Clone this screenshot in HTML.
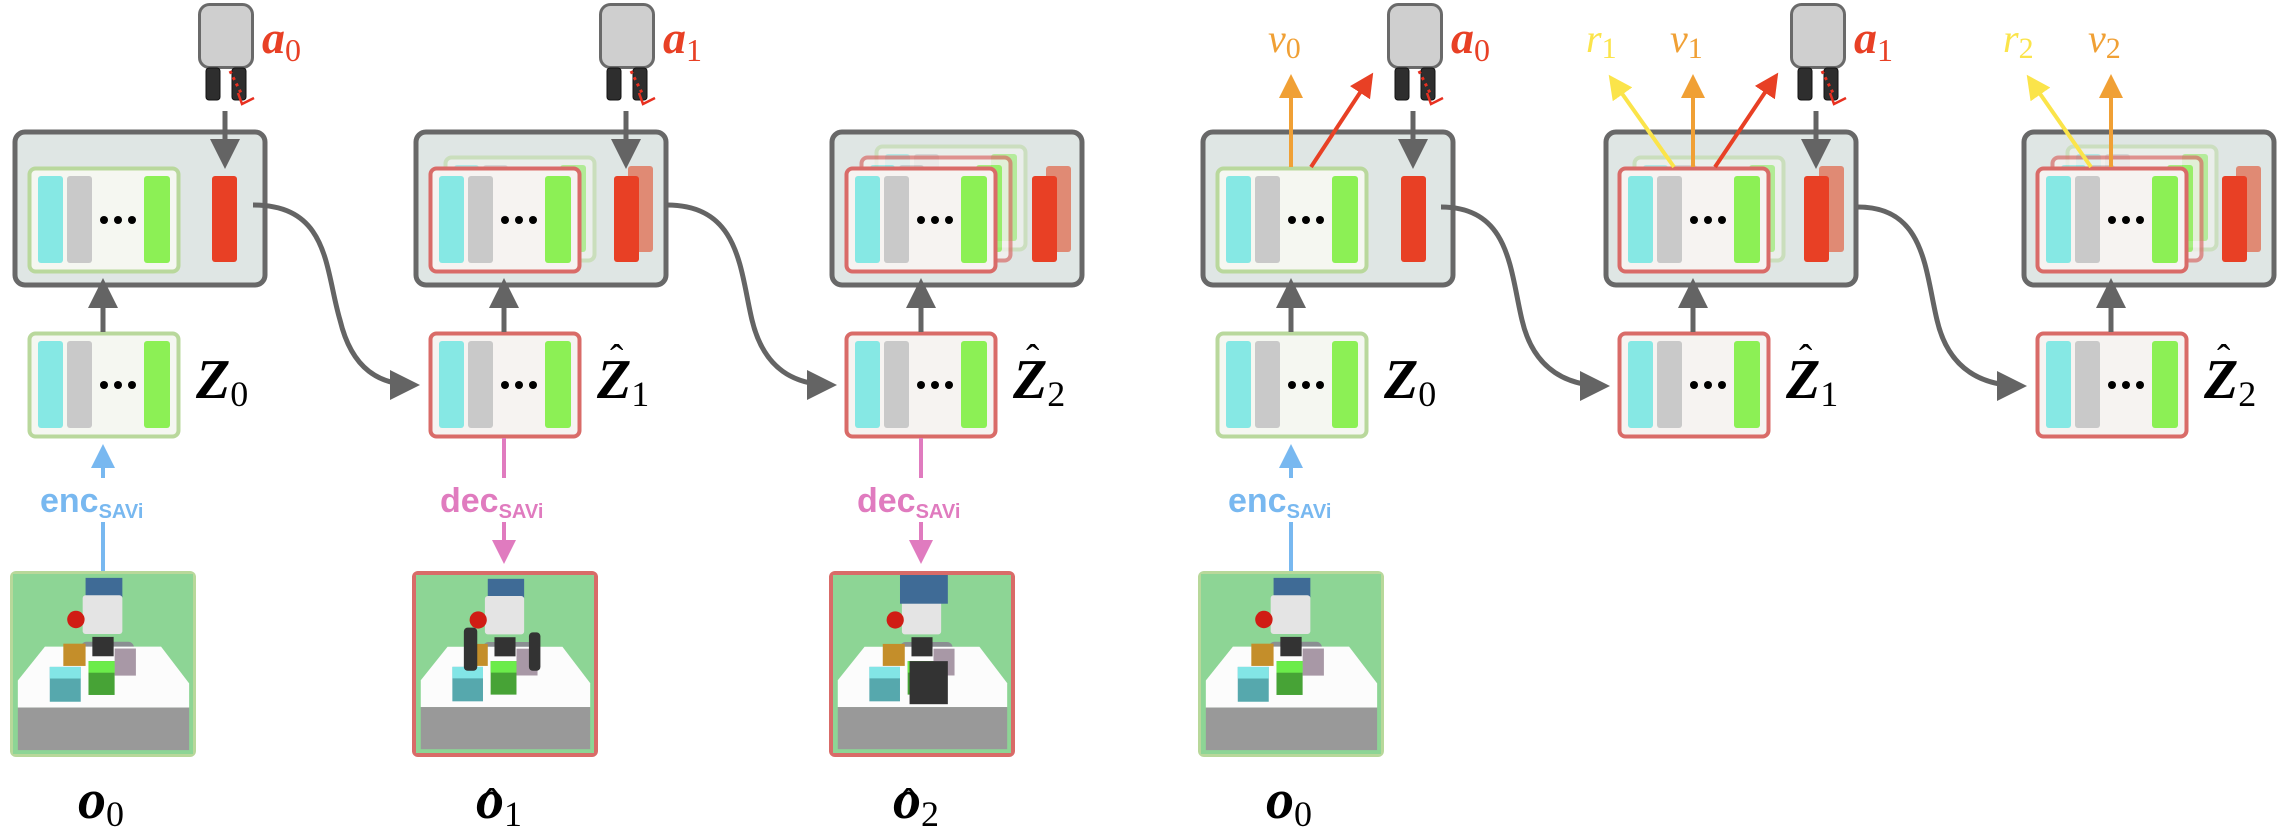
<!DOCTYPE html>
<html><head><meta charset="utf-8"><style>
html,body{margin:0;padding:0;background:#fff;}
svg{display:block;}
.lab{font-family:"Liberation Serif",serif;font-weight:bold;font-style:italic;}
.sub{font-family:"Liberation Serif",serif;font-weight:normal;font-style:normal;}
.sans{font-family:"Liberation Sans",sans-serif;font-weight:bold;}
</style></head><body>
<svg width="2282" height="830" viewBox="0 0 2282 830" xmlns="http://www.w3.org/2000/svg">
<defs>
<marker id="mg" markerWidth="6" markerHeight="6" refX="5" refY="3" orient="auto" markerUnits="strokeWidth"><path d="M0,0 L6,3 L0,6 z" fill="#646464"/></marker>
<marker id="mb" markerWidth="6" markerHeight="6" refX="5" refY="3" orient="auto" markerUnits="strokeWidth"><path d="M0,0 L6,3 L0,6 z" fill="#78b8f0"/></marker>
<marker id="mp" markerWidth="6" markerHeight="6" refX="5" refY="3" orient="auto" markerUnits="strokeWidth"><path d="M0,0 L6,3 L0,6 z" fill="#e07bbf"/></marker>
<marker id="mo" markerWidth="6" markerHeight="6" refX="5" refY="3" orient="auto" markerUnits="strokeWidth"><path d="M0,0 L6,3 L0,6 z" fill="#f0a035"/></marker>
<marker id="my" markerWidth="6" markerHeight="6" refX="5" refY="3" orient="auto" markerUnits="strokeWidth"><path d="M0,0 L6,3 L0,6 z" fill="#fbe44a"/></marker>
<marker id="mr" markerWidth="6" markerHeight="6" refX="5" refY="3" orient="auto" markerUnits="strokeWidth"><path d="M0,0 L6,3 L0,6 z" fill="#e84025"/></marker>
<g id="bars">
<rect x="10" y="9" width="25" height="87" rx="3" fill="#86e8e4"/>
<rect x="39" y="9" width="25" height="87" rx="3" fill="#c9c9c9"/>
<rect x="116" y="9" width="26" height="87" rx="3" fill="#8cf055"/>
<circle cx="76" cy="53" r="4" fill="#000"/><circle cx="90" cy="53" r="4" fill="#000"/><circle cx="104" cy="53" r="4" fill="#000"/>
</g>
<g id="gslot"><rect x="1.5" y="1.5" width="149" height="103" rx="6" fill="#f5f7f1" stroke="#b9d89c" stroke-width="4"/><use href="#bars"/></g>
<g id="rslot"><rect x="1.5" y="1.5" width="149" height="103" rx="6" fill="#f6f3f1" stroke="#d96b68" stroke-width="4"/><use href="#bars"/></g>
<g id="big"><rect x="2" y="2" width="250" height="153" rx="10" fill="#dfe6e4" stroke="#686868" stroke-width="5"/></g>
<g id="grip">
<rect x="1.5" y="1.5" width="53" height="63" rx="10" fill="#cfcfcf" stroke="#6a6a6a" stroke-width="3"/>
<rect x="8" y="65" width="14" height="32" rx="3" fill="#2e2e2e" stroke="#111" stroke-width="1"/>
<rect x="34" y="65" width="14" height="32" rx="3" fill="#2e2e2e" stroke="#111" stroke-width="1"/>
<path d="M32,68 L44,92" stroke="#e83020" stroke-width="3" stroke-dasharray="3,4" fill="none"/>
<path d="M40,90 L44,101 L56,95" stroke="#e83020" stroke-width="2.5" fill="none"/>
</g>
<g id="scene">
<rect x="0" y="0" width="186" height="186" fill="#8dd595"/>
<rect x="70" y="70" width="55" height="14" rx="6" fill="#8a8f92"/>
<rect x="75" y="4" width="38" height="20" fill="#3f6b96"/>
<rect x="72" y="22" width="41" height="40" rx="3" fill="#e4e4e4"/>
<polygon points="33,75 153,75 182,113 182,138 5,138 5,110" fill="#fcfcfc"/>
<rect x="5" y="138" width="177" height="44" fill="#999"/>
<rect x="82" y="65" width="22" height="20" fill="#333"/>
<circle cx="65" cy="47" r="9" fill="#d01c14"/>
<rect x="52" y="72" width="23" height="23" fill="#c48e2a"/>
<rect x="105" y="77" width="22" height="28" fill="#a898a6"/>
<rect x="38" y="96" width="32" height="36" fill="#56a8ad"/><rect x="38" y="96" width="32" height="12" fill="#82e5e6"/>
<rect x="78" y="90" width="27" height="35" fill="#47a336"/><rect x="78" y="90" width="27" height="12" fill="#6bec4a"/>
</g>
</defs>

<!-- ===== Panel 1 ===== -->
<use href="#big" x="13" y="130"/>
<use href="#gslot" x="28" y="167"/>
<rect x="212" y="176" width="25" height="86" rx="3" fill="#e84025"/>
<use href="#grip" x="198" y="3"/>
<line x1="225" y1="111" x2="225" y2="164" stroke="#646464" stroke-width="5" marker-end="url(#mg)"/>
<text x="262" y="53" class="lab" font-size="46" fill="#e84025">a<tspan class="sub" font-size="32" dy="8">0</tspan></text>
<use href="#gslot" x="28" y="332"/>
<line x1="103" y1="332" x2="103" y2="283" stroke="#646464" stroke-width="5" marker-end="url(#mg)"/>
<text x="196" y="398" class="lab" font-size="56" fill="#000">Z<tspan class="sub" font-size="36" dy="8">0</tspan></text>
<line x1="103" y1="571" x2="103" y2="448" stroke="#78b8f0" stroke-width="4" marker-end="url(#mb)"/>
<rect x="35" y="478" width="140" height="44" fill="#fff"/>
<text x="40" y="512" class="sans" font-size="34" fill="#78b8f0">enc<tspan font-size="20" dy="6">SAVi</tspan></text>
<rect x="10" y="571" width="186" height="186" rx="6" fill="#b8d89a"/>
<svg x="13" y="574" width="180" height="180" viewBox="0 0 186 186"><use href="#scene"/></svg>
<text x="78" y="818" class="lab" font-size="56" fill="#000">o<tspan class="sub" font-size="36" dy="8">0</tspan></text>
<path d="M253,205 C330,205 325,270 340,320 C352,370 380,385 415,385" stroke="#646464" stroke-width="5" fill="none" marker-end="url(#mg)"/>

<!-- ===== Panel 2 ===== -->
<use href="#big" x="414" y="130"/>
<g opacity="0.55"><use href="#gslot" x="444" y="156"/></g>
<use href="#rslot" x="429" y="167"/>
<rect x="628" y="166" width="25" height="86" rx="3" fill="#e08a74"/>
<rect x="614" y="176" width="25" height="86" rx="3" fill="#e84025"/>
<use href="#grip" x="599" y="3"/>
<line x1="626" y1="111" x2="626" y2="164" stroke="#646464" stroke-width="5" marker-end="url(#mg)"/>
<text x="663" y="53" class="lab" font-size="46" fill="#e84025">a<tspan class="sub" font-size="32" dy="8">1</tspan></text>
<use href="#rslot" x="429" y="332"/>
<line x1="504" y1="332" x2="504" y2="283" stroke="#646464" stroke-width="5" marker-end="url(#mg)"/>
<text x="597" y="398" class="lab" font-size="56" fill="#000">Z<tspan class="sub" font-size="36" dy="8">1</tspan></text>
<text x="610" y="372" class="sub" font-size="40" fill="#000">ˆ</text>
<line x1="504" y1="438" x2="504" y2="560" stroke="#e07bbf" stroke-width="4" marker-end="url(#mp)"/>
<rect x="434" y="478" width="142" height="44" fill="#fff"/>
<text x="440" y="512" class="sans" font-size="34" fill="#e07bbf">dec<tspan font-size="20" dy="6">SAVi</tspan></text>
<rect x="412" y="571" width="186" height="186" rx="6" fill="#d96b68"/>
<svg x="416" y="575" width="178" height="178" viewBox="0 0 186 186"><use href="#scene"/><rect x="50" y="55" width="14" height="45" rx="4" fill="#333"/><rect x="118" y="60" width="12" height="40" rx="4" fill="#333"/></svg>
<text x="476" y="818" class="lab" font-size="56" fill="#000">o<tspan class="sub" font-size="36" dy="8">1</tspan></text>
<text x="485" y="816" class="sub" font-size="40" fill="#000">ˆ</text>
<path d="M667,205 C740,205 740,270 752,320 C764,370 795,385 832,385" stroke="#646464" stroke-width="5" fill="none" marker-end="url(#mg)"/>

<!-- ===== Panel 3 ===== -->
<use href="#big" x="830" y="130"/>
<g opacity="0.5"><use href="#gslot" x="875" y="145"/></g>
<g opacity="0.7"><use href="#rslot" x="860" y="156"/></g>
<use href="#rslot" x="845" y="167"/>
<rect x="1046" y="166" width="25" height="86" rx="3" fill="#e08a74"/>
<rect x="1032" y="176" width="25" height="86" rx="3" fill="#e84025"/>
<use href="#rslot" x="845" y="332"/>
<line x1="921" y1="332" x2="921" y2="283" stroke="#646464" stroke-width="5" marker-end="url(#mg)"/>
<text x="1013" y="398" class="lab" font-size="56" fill="#000">Z<tspan class="sub" font-size="36" dy="8">2</tspan></text>
<text x="1026" y="372" class="sub" font-size="40" fill="#000">ˆ</text>
<line x1="921" y1="438" x2="921" y2="560" stroke="#e07bbf" stroke-width="4" marker-end="url(#mp)"/>
<rect x="851" y="478" width="142" height="44" fill="#fff"/>
<text x="857" y="512" class="sans" font-size="34" fill="#e07bbf">dec<tspan font-size="20" dy="6">SAVi</tspan></text>
<rect x="829" y="571" width="186" height="186" rx="6" fill="#d96b68"/>
<svg x="833" y="575" width="178" height="178" viewBox="0 0 186 186"><use href="#scene"/><rect x="70" y="0" width="50" height="30" fill="#3f6b96"/><rect x="80" y="90" width="40" height="45" fill="#333"/></svg>
<text x="893" y="818" class="lab" font-size="56" fill="#000">o<tspan class="sub" font-size="36" dy="8">2</tspan></text>
<text x="902" y="816" class="sub" font-size="40" fill="#000">ˆ</text>

<!-- ===== Panel 4 ===== -->
<use href="#big" x="1201" y="130"/>
<use href="#gslot" x="1216" y="167"/>
<rect x="1401" y="176" width="25" height="86" rx="3" fill="#e84025"/>
<use href="#grip" x="1387" y="3"/>
<line x1="1413" y1="111" x2="1413" y2="164" stroke="#646464" stroke-width="5" marker-end="url(#mg)"/>
<text x="1451" y="53" class="lab" font-size="46" fill="#e84025">a<tspan class="sub" font-size="32" dy="8">0</tspan></text>
<line x1="1291" y1="167" x2="1291" y2="78" stroke="#f0a035" stroke-width="4" marker-end="url(#mo)"/>
<line x1="1311" y1="167" x2="1371" y2="76" stroke="#e84025" stroke-width="4" marker-end="url(#mr)"/>
<text x="1268" y="52" class="lab" font-size="40" fill="#f0a035" style="font-weight:normal">v<tspan class="sub" font-size="30" dy="6">0</tspan></text>
<use href="#gslot" x="1216" y="332"/>
<line x1="1291" y1="332" x2="1291" y2="283" stroke="#646464" stroke-width="5" marker-end="url(#mg)"/>
<text x="1384" y="398" class="lab" font-size="56" fill="#000">Z<tspan class="sub" font-size="36" dy="8">0</tspan></text>
<line x1="1291" y1="571" x2="1291" y2="448" stroke="#78b8f0" stroke-width="4" marker-end="url(#mb)"/>
<rect x="1223" y="478" width="140" height="44" fill="#fff"/>
<text x="1228" y="512" class="sans" font-size="34" fill="#78b8f0">enc<tspan font-size="20" dy="6">SAVi</tspan></text>
<rect x="1198" y="571" width="186" height="186" rx="6" fill="#b8d89a"/>
<svg x="1201" y="574" width="180" height="180" viewBox="0 0 186 186"><use href="#scene"/></svg>
<text x="1266" y="818" class="lab" font-size="56" fill="#000">o<tspan class="sub" font-size="36" dy="8">0</tspan></text>
<path d="M1441,207 C1510,207 1510,270 1522,320 C1534,372 1570,386 1605,386" stroke="#646464" stroke-width="5" fill="none" marker-end="url(#mg)"/>

<!-- ===== Panel 5 ===== -->
<use href="#big" x="1604" y="130"/>
<g opacity="0.55"><use href="#gslot" x="1633" y="156"/></g>
<use href="#rslot" x="1618" y="167"/>
<rect x="1819" y="166" width="25" height="86" rx="3" fill="#e08a74"/>
<rect x="1804" y="176" width="25" height="86" rx="3" fill="#e84025"/>
<use href="#grip" x="1790" y="3"/>
<line x1="1816" y1="111" x2="1816" y2="164" stroke="#646464" stroke-width="5" marker-end="url(#mg)"/>
<text x="1854" y="53" class="lab" font-size="46" fill="#e84025">a<tspan class="sub" font-size="32" dy="8">1</tspan></text>
<line x1="1674" y1="167" x2="1611" y2="78" stroke="#fbe44a" stroke-width="4" marker-end="url(#my)"/>
<line x1="1693" y1="167" x2="1693" y2="78" stroke="#f0a035" stroke-width="4" marker-end="url(#mo)"/>
<line x1="1715" y1="167" x2="1776" y2="76" stroke="#e84025" stroke-width="4" marker-end="url(#mr)"/>
<text x="1586" y="52" class="lab" font-size="40" fill="#fbe44a" style="font-weight:normal">r<tspan class="sub" font-size="30" dy="6">1</tspan></text>
<text x="1670" y="52" class="lab" font-size="40" fill="#f0a035" style="font-weight:normal">v<tspan class="sub" font-size="30" dy="6">1</tspan></text>
<use href="#rslot" x="1618" y="332"/>
<line x1="1693" y1="332" x2="1693" y2="283" stroke="#646464" stroke-width="5" marker-end="url(#mg)"/>
<text x="1786" y="398" class="lab" font-size="56" fill="#000">Z<tspan class="sub" font-size="36" dy="8">1</tspan></text>
<text x="1799" y="372" class="sub" font-size="40" fill="#000">ˆ</text>
<path d="M1858,207 C1925,207 1925,270 1937,320 C1949,372 1985,386 2022,386" stroke="#646464" stroke-width="5" fill="none" marker-end="url(#mg)"/>

<!-- ===== Panel 6 ===== -->
<use href="#big" x="2022" y="130"/>
<g opacity="0.5"><use href="#gslot" x="2066" y="145"/></g>
<g opacity="0.7"><use href="#rslot" x="2051" y="156"/></g>
<use href="#rslot" x="2036" y="167"/>
<rect x="2236" y="166" width="25" height="86" rx="3" fill="#e08a74"/>
<rect x="2222" y="176" width="25" height="86" rx="3" fill="#e84025"/>
<line x1="2091" y1="167" x2="2029" y2="78" stroke="#fbe44a" stroke-width="4" marker-end="url(#my)"/>
<line x1="2111" y1="167" x2="2111" y2="78" stroke="#f0a035" stroke-width="4" marker-end="url(#mo)"/>
<text x="2003" y="52" class="lab" font-size="40" fill="#fbe44a" style="font-weight:normal">r<tspan class="sub" font-size="30" dy="6">2</tspan></text>
<text x="2088" y="52" class="lab" font-size="40" fill="#f0a035" style="font-weight:normal">v<tspan class="sub" font-size="30" dy="6">2</tspan></text>
<use href="#rslot" x="2036" y="332"/>
<line x1="2111" y1="332" x2="2111" y2="283" stroke="#646464" stroke-width="5" marker-end="url(#mg)"/>
<text x="2204" y="398" class="lab" font-size="56" fill="#000">Z<tspan class="sub" font-size="36" dy="8">2</tspan></text>
<text x="2217" y="372" class="sub" font-size="40" fill="#000">ˆ</text>
</svg>
</body></html>
